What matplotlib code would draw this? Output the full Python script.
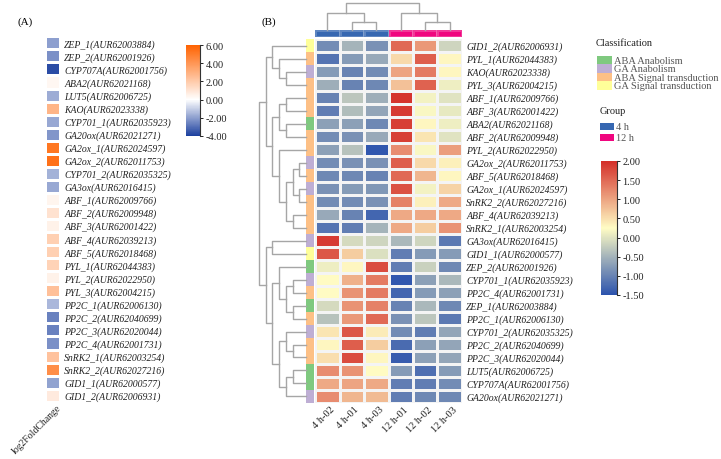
import numpy as np
import matplotlib
matplotlib.use('Agg')
import matplotlib.pyplot as plt
from matplotlib.colors import LinearSegmentedColormap, ListedColormap
from matplotlib.patches import Rectangle

plt.rcParams['font.family'] = ['Liberation Serif', 'DejaVu Serif']

W, H = 721, 460

# ---- panel A: log2 fold change, one column
genes_a = ['ZEP_1(AUR62003884)', 'ZEP_2(AUR62001926)', 'CYP707A(AUR62001756)',
           'ABA2(AUR62021168)', 'LUT5(AUR62006725)', 'KAO(AUR62023338)',
           'CYP701_1(AUR62035923)', 'GA20ox(AUR62021271)', 'GA2ox_1(AUR62024597)',
           'GA2ox_2(AUR62011753)', 'CYP701_2(AUR62035325)', 'GA3ox(AUR62016415)',
           'ABF_1(AUR62009766)', 'ABF_2(AUR62009948)', 'ABF_3(AUR62001422)',
           'ABF_4(AUR62039213)', 'ABF_5(AUR62018468)', 'PYL_1(AUR62044383)',
           'PYL_2(AUR62022950)', 'PYL_3(AUR62004215)', 'PP2C_1(AUR62006130)',
           'PP2C_2(AUR62040699)', 'PP2C_3(AUR62020044)', 'PP2C_4(AUR62001731)',
           'SnRK2_1(AUR62003254)', 'SnRK2_2(AUR62027216)', 'GID1_1(AUR62000577)',
           'GID1_2(AUR62006931)']
log2fc = [-2.0, -2.3, -3.7, 0.3, -1.7, 2.8, -1.8, -2.2, 5.2, 5.4, -1.6, -1.8,
          0.4, 1.1, 0.5, 1.8, 1.8, 1.7, 0.5, 2.4, -1.5, -2.6, -2.6, -2.3,
          2.3, 4.3, -1.9, 0.8]

# ---- panel B: clustered z-scores
genes_b = ['GID1_2(AUR62006931)', 'PYL_1(AUR62044383)', 'KAO(AUR62023338)',
           'PYL_3(AUR62004215)', 'ABF_1(AUR62009766)', 'ABF_3(AUR62001422)',
           'ABA2(AUR62021168)', 'ABF_2(AUR62009948)', 'PYL_2(AUR62022950)',
           'GA2ox_2(AUR62011753)', 'ABF_5(AUR62018468)', 'GA2ox_1(AUR62024597)',
           'SnRK2_2(AUR62027216)', 'ABF_4(AUR62039213)', 'SnRK2_1(AUR62003254)',
           'GA3ox(AUR62016415)', 'GID1_1(AUR62000577)', 'ZEP_2(AUR62001926)',
           'CYP701_1(AUR62035923)', 'PP2C_4(AUR62001731)', 'ZEP_1(AUR62003884)',
           'PP2C_1(AUR62006130)', 'CYP701_2(AUR62035325)', 'PP2C_2(AUR62040699)',
           'PP2C_3(AUR62020044)', 'LUT5(AUR62006725)', 'CYP707A(AUR62001756)',
           'GA20ox(AUR62021271)']
samples = ['4 h-02', '4 h-01', '4 h-03', '12 h-01', '12 h-02', '12 h-03']
sample_group = [0, 0, 0, 1, 1, 1]
zscore = [
    [-0.90, -0.50, -0.85, 1.50, 1.10, -0.15],
    [-1.15, -0.75, -0.60, 0.55, 1.60, 0.30],
    [-0.75, -1.00, -0.90, 1.00, 1.35, 0.30],
    [-0.55, -1.00, -0.95, 0.75, 1.55, 0.10],
    [-1.00, -0.30, -0.55, 1.95, 0.15, 0.00],
    [-1.05, -0.40, -0.65, 1.90, 0.20, 0.05],
    [-0.70, -0.70, -0.95, 1.85, 0.30, 0.10],
    [-0.90, -0.85, -0.60, 1.85, 0.45, 0.00],
    [-0.70, -0.35, -1.45, 1.20, 0.20, 1.05],
    [-0.90, -0.85, -0.85, 1.60, 0.55, 0.35],
    [-0.95, -0.95, -1.00, 1.50, 0.85, 0.30],
    [-0.85, -0.75, -0.80, 1.70, 0.15, 0.60],
    [-0.90, -0.90, -0.85, 1.30, 0.35, 0.95],
    [-0.60, -1.00, -1.30, 0.95, 0.95, 0.95],
    [-1.15, -1.05, -0.50, 0.95, 0.65, 1.15],
    [1.90, -0.10, -0.15, -0.45, -0.15, -1.10],
    [1.65, 0.65, -0.05, -1.05, -0.75, -0.75],
    [0.10, 0.30, 1.75, -1.05, -0.20, -0.95],
    [0.25, 0.90, 1.35, -1.45, -0.70, -0.45],
    [0.25, 1.15, 1.35, -1.30, -0.75, -0.70],
    [-0.10, 1.15, 1.30, -1.00, -0.45, -0.95],
    [-0.35, 1.10, 1.50, -0.85, -0.30, -1.10],
    [0.45, 1.65, 0.40, -0.90, -1.05, -0.65],
    [0.30, 1.60, 0.65, -1.25, -0.70, -0.65],
    [0.50, 1.75, 0.30, -1.40, -0.70, -0.65],
    [1.20, 1.15, 0.25, -0.75, -1.20, -0.75],
    [0.95, 1.00, 0.95, -1.05, -1.05, -0.90],
    [1.20, 0.85, 0.80, -1.05, -0.95, -0.95],
]
# 0 ABA Anabolism, 1 GA Anabolism, 2 ABA Signal transduction, 3 GA Signal transduction
row_class = [3, 2, 1, 2, 2, 2, 0, 2, 2, 1, 2, 1, 2, 2, 2,
             1, 3, 0, 1, 2, 0, 2, 1, 2, 2, 0, 0, 1]

classes = ['ABA Anabolism', 'GA Anabolism', 'ABA Signal transduction', 'GA Signal transduction']
class_colors = ['#7fc97f', '#beaed4', '#fdc086', '#ffff99']
groups = ['4 h', '12 h']
group_colors = ['#3667b1', '#f0067f']

# dendrograms: (left, right, merge height), leaves are row/column indices
row_tree = (((0, (1, (2, 3, 3), 4), 5),
             (((4, 5, 3), (6, 7, 3), 4),
              (8, (((9, 10, 1), (11, 12, 1), 2), (13, 14, 2), 3), 4), 5), 6),
            ((15, 16, 5),
             ((17, ((18, 19, 2), (20, 21, 2), 3), 4),
              ((22, (23, 24, 2), 3), ((25, 26, 2), 27, 3), 4), 5), 6), 7)
col_tree = ((0, (1, 2, 8), 17.5), (3, (4, 5, 8), 17.5), 27.5)

cmap_a = LinearSegmentedColormap.from_list('a', [(0, '#1b3f9e'), (0.4, '#ffffff'), (1, '#ff6200')])
cmap_b = LinearSegmentedColormap.from_list('b', ['#2c53ad', '#fffcc4', '#d42f29'])

fig = plt.figure(figsize=(W / 100, H / 100), dpi=100)


def px_axes(x0, y0, x1, y1):
    return fig.add_axes([x0 / W, 1 - y1 / H, (x1 - x0) / W, (y1 - y0) / H])


def px_rect(x0, y0, x1, y1, color):
    fig.add_artist(Rectangle((x0 / W, 1 - y1 / H), (x1 - x0) / W, (y1 - y0) / H,
                             transform=fig.transFigure, facecolor=color, edgecolor='none'))


def draw_tree(ax, node, vertical):
    if isinstance(node, int):
        return node + 0.5, 0
    left, right, h = node
    p1, h1 = draw_tree(ax, left, vertical)
    p2, h2 = draw_tree(ax, right, vertical)
    hs = [h1, h, h, h2]
    ps = [p1, p1, p2, p2]
    if vertical:
        ax.plot(ps, hs, color='#a6a6a6', lw=1, clip_on=False)
    else:
        ax.plot(hs, ps, color='#a6a6a6', lw=1, clip_on=False)
    return (p1 + p2) / 2, h


def style_cbar(cb, cax):
    cb.outline.set_visible(False)
    cax.plot([1, 1], [0, 1], transform=cax.transAxes, color='#333333', lw=0.8, clip_on=False)
    cax.tick_params(labelsize=7.5, length=2.5, width=0.7, pad=1.5, colors='#222222')


# ---------- panel A
n = len(genes_a)
ax_a = px_axes(45, 37.3, 60, 402.7)
mesh_a = ax_a.pcolormesh(np.array(log2fc)[:, None], cmap=cmap_a, vmin=-4, vmax=6,
                         edgecolors='white', linewidth=1)
ax_a.set_ylim(n, 0)
ax_a.set_xticks([])
ax_a.yaxis.tick_right()
ax_a.set_yticks(np.arange(n) + 0.5, genes_a, fontsize=7, fontstyle='italic', color='#222222')
ax_a.tick_params(axis='y', length=0, pad=3)
for s in ax_a.spines.values():
    s.set_visible(False)

cax_a = px_axes(186, 46, 200, 137)
cb_a = fig.colorbar(mesh_a, cax=cax_a, ticks=[-4, -2, 0, 2, 4, 6], format='%.2f')
style_cbar(cb_a, cax_a)

fig.text(18 / W, 1 - 22 / H, '(A)', fontsize=8, va='center', ha='left')
fig.text(56 / W, 1 - 404 / H, 'log2FoldChange', fontsize=7, rotation=45,
         ha='right', va='top', rotation_mode='anchor', color='#222222')

# ---------- panel B
m = len(genes_b)
ax_b = px_axes(315, 40, 462, 404)
mesh_b = ax_b.pcolormesh(np.array(zscore), cmap=cmap_b, vmin=-1.5, vmax=2,
                         edgecolors='#f4f4f4', linewidth=0.9)
ax_b.set_ylim(m, 0)
ax_b.yaxis.tick_right()
ax_b.set_yticks(np.arange(m) + 0.5, genes_b, fontsize=7, fontstyle='italic', color='#222222')
ax_b.set_xticks(np.arange(len(samples)) + 0.6, samples, fontsize=7.5, rotation=45,
                ha='right', va='top', rotation_mode='anchor', color='#222222')
ax_b.tick_params(axis='both', length=0)
ax_b.tick_params(axis='y', pad=3)
ax_b.tick_params(axis='x', pad=1)
for s in ax_b.spines.values():
    s.set_visible(False)

ax_cls = px_axes(306, 40, 314, 404)
ax_cls.pcolormesh(np.array(row_class)[:, None], cmap=ListedColormap(class_colors), vmin=-0.5, vmax=3.5)
ax_cls.set_ylim(m, 0)
ax_cls.axis('off')

ax_grp = px_axes(315, 31, 462, 38)
ax_grp.pcolormesh(np.array(sample_group)[None, :], cmap=ListedColormap(group_colors), vmin=-0.5, vmax=1.5,
                  edgecolors=(1, 1, 1, 0.2), linewidth=0.8)
ax_grp.axis('off')

ax_rd = px_axes(255, 40, 306, 404)
draw_tree(ax_rd, row_tree, vertical=False)
ax_rd.set_ylim(m, 0)
ax_rd.set_xlim(7.6, 0)
ax_rd.axis('off')

ax_cd = px_axes(315, 2, 462, 31)
draw_tree(ax_cd, col_tree, vertical=True)
ax_cd.set_xlim(0, len(samples))
ax_cd.set_ylim(0, 29)
ax_cd.axis('off')

fig.text(262 / W, 1 - 22 / H, '(B)', fontsize=8, va='center', ha='left')

# legends
fig.text(596 / W, 1 - 44 / H, 'Classification', fontsize=7.5, va='center', color='#222222')
for i, (c, col) in enumerate(zip(classes, class_colors)):
    y0 = 56.7 + 8.5 * i
    px_rect(597, y0, 612, y0 + 8.5, col)
    fig.text(614 / W, 1 - (y0 + 4.5) / H, c, fontsize=7.5, va='center', color='#555555')

fig.text(600 / W, 1 - 112 / H, 'Group', fontsize=7.5, va='center', color='#222222')
for i, (g, col) in enumerate(zip(groups, group_colors)):
    y0 = 124 + 11 * i
    px_rect(600, y0, 614, y0 + 7, col)
    fig.text(616 / W, 1 - (y0 + 4) / H, g, fontsize=7.5, va='center', color='#555555')

cax_b = px_axes(601, 162, 617, 296)
cb_b = fig.colorbar(mesh_b, cax=cax_b, ticks=np.arange(-1.5, 2.01, 0.5), format='%.2f')
style_cbar(cb_b, cax_b)

fig.savefig('out.png', dpi=100)
